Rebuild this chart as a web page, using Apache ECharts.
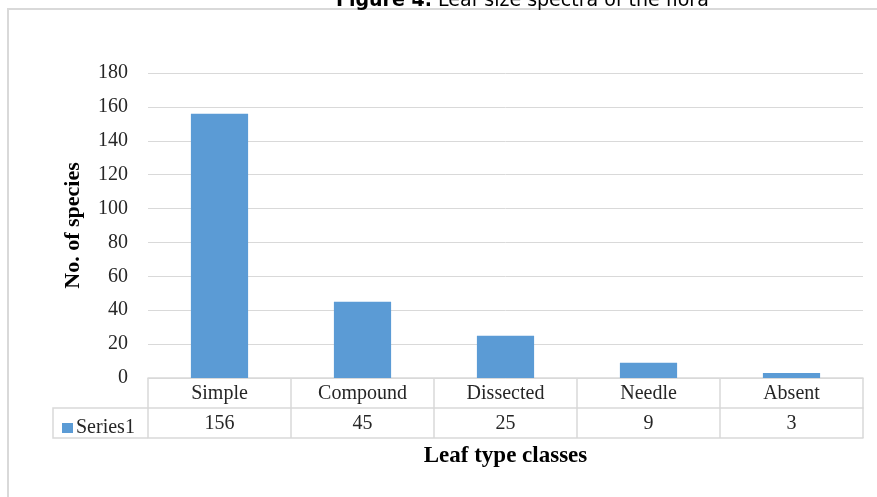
<!DOCTYPE html>
<html>
<head>
<meta charset="utf-8">
<script src="https://cdn.jsdelivr.net/npm/echarts@6/dist/echarts.min.js"></script>
<style>
  html, body { margin: 0; padding: 0; background: #fff; }
  #chart { width: 877px; height: 497px; }
</style>
</head>
<body>
<div id="chart"></div>
<script>
// data
const categories = ["Simple", "Compound", "Dissected", "Needle", "Absent"];
const species = [156, 45, 25, 9, 3];
const seriesName = "Series1";

const serif = "'Liberation Serif', 'Times New Roman', serif";
const lineGray = "#d9d9d9";

const myChart = echarts.init(document.getElementById("chart"));
myChart.setOption({
  animation: false,
  textStyle: { fontFamily: serif },
  title: {
    text: "{b|Figure 4.} Leaf size spectra of the flora",
    left: 331,
    top: -13,
    textStyle: {
      fontFamily: "'DejaVu Sans', Verdana, sans-serif",
      fontSize: 19,
      fontWeight: "normal",
      color: "#000",
      rich: {
        b: { fontFamily: "'DejaVu Sans', Verdana, sans-serif", fontSize: 19, fontWeight: "bold", color: "#000" }
      }
    }
  },
  legend: {
    data: [seriesName],
    left: 57,
    top: 413,
    icon: "rect",
    itemWidth: 11,
    itemHeight: 10,
    itemGap: 0,
    textStyle: { fontFamily: serif, fontSize: 20, color: "#262626", padding: [0, 0, 0, -2] },
    selectedMode: false
  },
  grid: { left: 148, right: 14, top: 73, bottom: 119, containLabel: false },
  xAxis: [
    {
      type: "category",
      data: categories,
      position: "bottom",
      axisLine: { show: true, lineStyle: { color: lineGray, width: 1.5 } },
      axisTick: { show: true, length: 60, interval: 0, lineStyle: { color: lineGray, width: 1.5 } },
      axisLabel: { interval: 0, margin: 6, fontFamily: serif, fontSize: 20, color: "#262626" }
    },
    {
      type: "category",
      data: species.map(String),
      position: "bottom",
      offset: 30,
      axisLine: { show: true, lineStyle: { color: lineGray, width: 1.5 } },
      axisTick: { show: false },
      axisLabel: { interval: 0, margin: 6, fontFamily: serif, fontSize: 20, color: "#262626" }
    },
    {
      type: "category",
      data: categories,
      position: "bottom",
      offset: 60,
      axisLine: { show: true, lineStyle: { color: lineGray, width: 1.5 } },
      axisTick: { show: false },
      axisLabel: { show: false },
      name: "Leaf type classes",
      nameLocation: "middle",
      nameGap: 7,
      nameTextStyle: { fontFamily: serif, fontSize: 23, fontWeight: "bold", color: "#000" }
    }
  ],
  yAxis: {
    type: "value",
    min: 0,
    max: 180,
    interval: 20,
    axisLine: { show: false },
    axisTick: { show: false },
    axisLabel: { margin: 20, fontFamily: serif, fontSize: 20, color: "#262626" },
    splitLine: { lineStyle: { color: lineGray, width: 1 } },
    name: "No. of species",
    nameLocation: "middle",
    nameRotate: 90,
    nameGap: 64,
    nameTextStyle: { fontFamily: serif, fontSize: 22, fontWeight: "bold", color: "#000" }
  },
  series: [
    {
      name: seriesName,
      type: "bar",
      xAxisIndex: 0,
      data: species,
      barWidth: "40%",
      itemStyle: { color: "#5b9bd5" }
    }
  ],
  graphic: [
    // outer chart border
    {
      type: "rect",
      shape: { x: 8, y: 9, width: 900, height: 520 },
      style: { fill: "none", stroke: lineGray, lineWidth: 2 },
      silent: true
    },
    // left part of data table (legend cell)
    {
      type: "polyline",
      shape: { points: [[148, 408], [53, 408], [53, 438], [148, 438]] },
      style: { fill: "none", stroke: lineGray, lineWidth: 1.5 },
      silent: true
    }
  ]
});
</script>
</body>
</html>
